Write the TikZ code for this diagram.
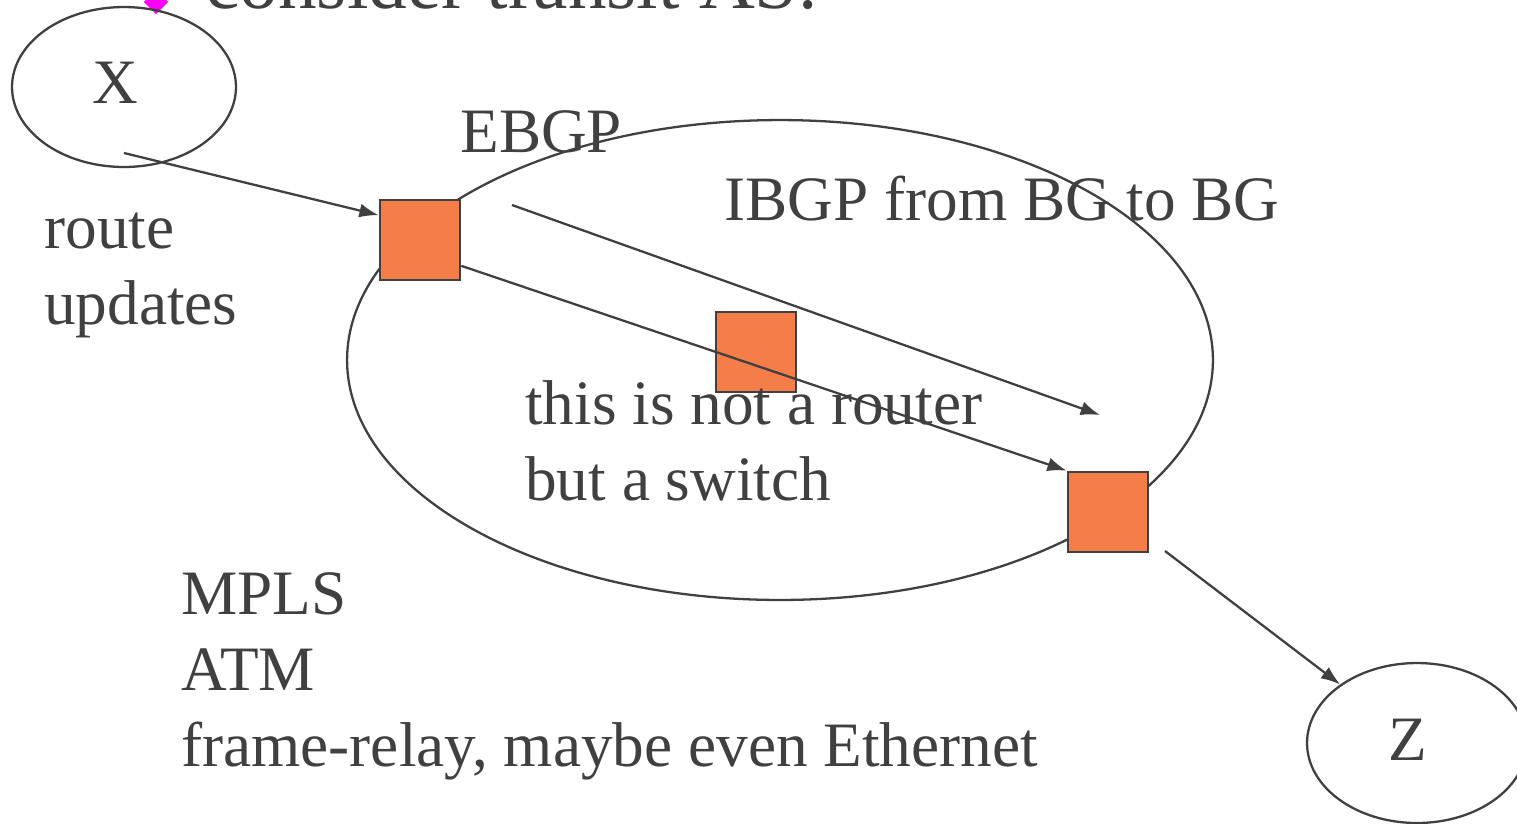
\documentclass[tikz,border=0pt]{standalone}
\usepackage{fontspec}
\setmainfont{Liberation Serif}
\usetikzlibrary{calc,shapes.geometric,arrows.meta}
\definecolor{inkGray}{HTML}{404040}
\definecolor{boxOrange}{HTML}{F47D4A}
\definecolor{bulletPink}{HTML}{FF00FF}

\begin{document}
\begin{tikzpicture}[x=0.02cm, y=-0.02cm,
    every node/.style={text=inkGray, font=\fontsize{36}{43}\selectfont},
    cloud/.style={ellipse, draw=inkGray, line width=1.3pt, inner sep=0pt},
    router/.style={draw=inkGray, line width=1.5pt, fill=boxOrange, minimum size=1.6cm, inner sep=0pt},
    label/.style={align=left, anchor=base west, inner sep=0pt},
    link/.style={draw=inkGray, line width=1.3pt, -{Latex[length=11pt,width=8pt]}}]
    \useasboundingbox (0,0) rectangle (1517,823);

    % slide title, cut off at the top
    \node (title) [label, font=\fontsize{44}{50}\selectfont] at (205,8) {consider transit AS:};
    \node (bullet) [diamond, fill=bulletPink, minimum size=14pt, inner sep=0pt] at (156,2) {};

    % autonomous systems
    \node (X) [cloud, minimum width=4.48cm, minimum height=3.2cm] at (124,87) {};
    \node at (115,83) {X};
    \node (AS) [cloud, minimum width=17.32cm, minimum height=9.6cm] at (780,360) {};
    \node (Z) [cloud, minimum width=4.4cm, minimum height=3.2cm] at (1417,743) {};
    \node at (1408,740) {Z};

    % border gateways and the switch
    \node (bg1) [router] at (420,240) {};
    \node (sw) [router] at (756,352) {};
    \node (bg2) [router] at (1108,512) {};

    \coordinate (xout) at (124,153);
    \coordinate (ibgpA) at (512,205);
    \coordinate (ibgpB) at (1100,415);
    \coordinate (zout) at (1165,551);

    \draw[link] (xout) -- (bg1.149);
    \draw[link] (bg1.-32) -- (bg2.north west);
    \draw[link] (ibgpA) -- (ibgpB);
    \draw[link] (zout) -- (Z);

    % labels (base = last line)
    \node (ebgp) [label] at (460,152) {EBGP};
    \node (ibgp) [label] at (724,220) {IBGP from BG to BG};
    \node (upd) [label] at (44,324) {route\\updates};
    \node (note) [label] at (525,500) {this is not a router\\but a switch};
    \node (tech) [label] at (181,766) {MPLS\\ATM\\frame-relay, maybe even Ethernet};
\end{tikzpicture}
\end{document}
